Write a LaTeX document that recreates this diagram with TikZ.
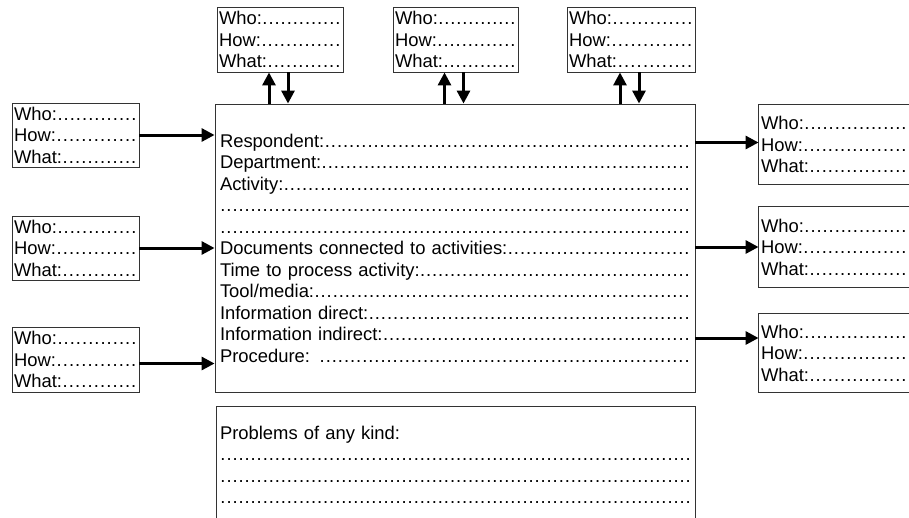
\documentclass[tikz,border=0pt]{standalone}
\usepackage{fontspec}
\setmainfont{Liberation Sans}
\usetikzlibrary{arrows.meta}
\newcommand{\fillin}{\leavevmode\xleaders\hbox to 6pt{\hss.\hss}\hfill\kern0pt}
\newcommand{\whohowwhat}{Who:\fillin\\How:\fillin\\What:\fillin}
\tikzset{
  whobox/.style={draw=black!80,line width=0.9pt,inner xsep=2pt,inner ysep=0pt,align=left,text width=#1},
  frame/.style={draw=black!80,line width=0.9pt},
  flow/.style={line width=3pt,-{Triangle[length=13pt,width=13pt]}}
}

\begin{document}
\begin{tikzpicture}[x=1pt,y=-1pt,font=\fontsize{18.4}{21.5}\selectfont]
\clip (0,0) rectangle (909,517);
% activity sheet
\node[whobox=470pt,inner xsep=5pt,minimum height=288pt] (main) at (455,248) {%
Respondent:\fillin\\
Department:\fillin\\
Activity:\fillin\\
\fillin\\
\fillin\\
Documents connected to activities:\fillin\\
Time to process activity:\fillin\\
Tool/media:\fillin\\
Information direct:\fillin\\
Information indirect:\fillin\\
Procedure: \fillin};
\node[whobox=471pt,inner xsep=4pt,minimum height=118pt] (prob) at (455.5,465) {%
Problems of any kind:\\
\fillin\\
\fillin\\
\fillin};
% who/how/what boxes
\node[whobox=122pt,minimum height=65pt] (T1) at (280,39.5) {\whohowwhat};
\node[whobox=121pt,minimum height=65pt] (T2) at (455.5,39.5) {\whohowwhat};
\node[whobox=124pt,minimum height=65pt] (T3) at (631,39.5) {\whohowwhat};
\node[whobox=123pt,minimum height=64pt] (L1) at (75.5,135) {\whohowwhat};
\node[whobox=123pt,minimum height=64pt] (L2) at (75.5,248) {\whohowwhat};
\node[whobox=123pt,minimum height=65pt] (L3) at (75.5,359.5) {\whohowwhat};
\node[whobox=146pt,draw=none,minimum height=79pt] (R1) at (834,144.5) {\whohowwhat};
\node[whobox=146pt,draw=none,minimum height=80pt] (R2) at (834,247) {\whohowwhat};
\node[whobox=146pt,draw=none,minimum height=78pt] (R3) at (834,353) {\whohowwhat};
\foreach \r in {R1,R2,R3}
  \draw[frame] ([xshift=10pt]\r.north east) -| (\r.south west) -- ([xshift=10pt]\r.south east);
% arrows
\draw[flow] (L1.east) -- (L1.east -| main.west);
\draw[flow] (L2.east) -- (L2.east -| main.west);
\draw[flow] ([yshift=-4pt]L3.east) -- ([yshift=-4pt]L3.east -| main.west);
\draw[flow] ([yshift=2pt]R1.west -| main.east) -- ([yshift=2pt]R1.west);
\draw[flow] (R2.west -| main.east) -- (R2.west);
\draw[flow] ([yshift=15pt]R3.west -| main.east) -- ([yshift=15pt]R3.west);
\foreach \t in {T1,T2,T3}{
  \draw[flow] ([xshift=-11pt]\t.south |- main.north) -- ([xshift=-11pt]\t.south);
  \draw[flow] ([xshift=8pt]\t.south) -- ([xshift=8pt]\t.south |- main.north);
}
\end{tikzpicture}
\end{document}
